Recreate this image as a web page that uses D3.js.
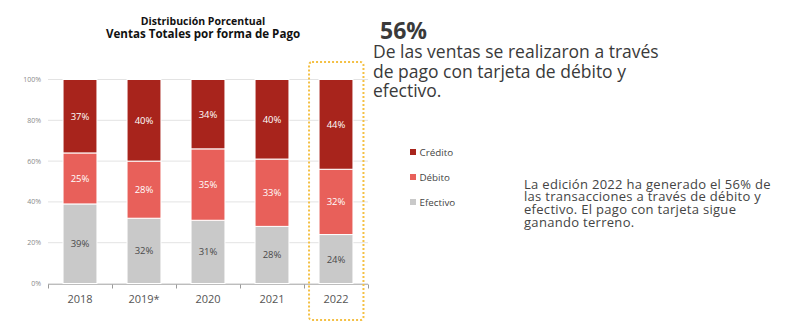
<!DOCTYPE html>
<html>
<head>
<meta charset="utf-8">
<script src="https://cdn.jsdelivr.net/npm/d3@7"></script>
<style>
  html, body { margin: 0; padding: 0; background: #fff; }
  svg { display: block; font-family: "Open Sans", "Noto Sans", sans-serif; }
</style>
</head>
<body>
<svg id="chart" width="800" height="333"></svg>
<script>
// Payment-method share of total sales per edition (percent)
const years = ["2018", "2019*", "2020", "2021", "2022"];
const efectivo = [39, 32, 31, 28, 24];
const debito = [25, 28, 35, 33, 32];
const credito = [37, 40, 34, 40, 44];
const yTicks = [0, 20, 40, 60, 80, 100];
const seriesNames = ["Efectivo", "Débito", "Crédito"];
const legendOrder = ["Crédito", "Débito", "Efectivo"];
const highlightYear = "2022";

const colors = { "Crédito": "#a8241c", "Débito": "#e8605a", "Efectivo": "#c9c9c9" };
const labelColors = { "Crédito": "#ffffff", "Débito": "#ffffff", "Efectivo": "#4a4a4a" };

const svg = d3.select("#chart");

const rows = years.map((y, i) => ({ year: y, "Efectivo": efectivo[i], "Débito": debito[i], "Crédito": credito[i] }));
const stacked = d3.stack().keys(seriesNames)(rows);

const x = d3.scaleBand().domain(years).range([48, 368]).paddingInner(0.47).paddingOuter(0.235);
const y = d3.scaleLinear().domain([0, 100]).range([283.5, 79.5]);

// gridlines
svg.append("g").selectAll("line").data(yTicks).join("line")
  .attr("x1", 48).attr("x2", 368)
  .attr("y1", d => y(d)).attr("y2", d => y(d))
  .attr("stroke", "#e3e3e3").attr("stroke-width", 1);

// y tick labels
svg.append("g").selectAll("text").data(yTicks).join("text")
  .attr("x", 41).attr("y", d => y(d) + 2.5)
  .attr("text-anchor", "end")
  .attr("font-size", 7).attr("fill", "#8a8a8a")
  .text(d => d + "%");

// stacked bars (rounded shares can exceed 100, so the top is clipped to the axis)
const layers = svg.append("g").selectAll("g").data(stacked).join("g")
  .attr("fill", d => colors[d.key]);
layers.selectAll("rect").data(d => d.map(v => Object.assign(v, { key: d.key }))).join("rect")
  .attr("x", d => x(d.data.year))
  .attr("width", x.bandwidth())
  .attr("y", d => y(Math.min(d[1], 100)))
  .attr("height", d => y(d[0]) - y(Math.min(d[1], 100)))
  .attr("stroke", "#ffffff").attr("stroke-width", 1);

// value labels
layers.selectAll("text").data(d => d).join("text")
  .attr("x", d => x(d.data.year) + x.bandwidth() / 2)
  .attr("y", d => (y(d[0]) + y(Math.min(d[1], 100))) / 2 + 3.5)
  .attr("text-anchor", "middle")
  .attr("font-size", 9.5)
  .attr("fill", d => labelColors[d.key])
  .text(d => (d.data[d.key]) + "%");

// x axis
const xAxisScale = d3.scaleLinear().domain([0, years.length]).range([48, 368]);
const axisG = svg.append("g");
axisG.append("line").attr("x1", 48).attr("x2", 368).attr("y1", 284.5).attr("y2", 284.5)
  .attr("stroke", "#bdbdbd");
axisG.selectAll("line.tick").data(d3.range(years.length + 1)).join("line")
  .attr("class", "tick")
  .attr("x1", d => xAxisScale(d) + 0.5).attr("x2", d => xAxisScale(d) + 0.5)
  .attr("y1", 284.5).attr("y2", 288.5)
  .attr("stroke", "#9a9a9a");
axisG.selectAll("text").data(years).join("text")
  .attr("x", d => x(d) + x.bandwidth() / 2)
  .attr("y", 303)
  .attr("text-anchor", "middle")
  .attr("font-size", 11).attr("fill", "#555")
  .text(d => d);

// dotted highlight around the latest edition
const hx = x(highlightYear);
svg.append("rect")
  .attr("x", hx - 10).attr("y", 62)
  .attr("width", x.bandwidth() + 20.5).attr("height", 258)
  .attr("rx", 3)
  .attr("fill", "none").attr("stroke", "#f4c044")
  .attr("stroke-width", 2).attr("stroke-dasharray", "2,2");

// titles
svg.append("text").attr("x", 203).attr("y", 25).attr("text-anchor", "middle")
  .attr("font-size", 10.5).attr("font-weight", 700).attr("fill", "#111")
  .text("Distribución Porcentual");
svg.append("text").attr("x", 203).attr("y", 37.5).attr("text-anchor", "middle")
  .attr("font-size", 11.6).attr("font-weight", 700).attr("fill", "#111")
  .text("Ventas Totales por forma de Pago");

// headline figure
svg.append("text").attr("x", 380).attr("y", 39)
  .attr("font-size", 23).attr("font-weight", 700).attr("fill", "#3a3a3a")
  .text("56%");
const headLines = ["De las ventas se realizaron a través", "de pago con tarjeta de débito y", "efectivo."];
svg.append("text").attr("font-size", 17.5).attr("fill", "#3a3a3a")
  .selectAll("tspan").data(headLines).join("tspan")
  .attr("x", 373).attr("y", (d, i) => 58 + i * 19.5)
  .text(d => d);

// legend
const lg = svg.append("g").selectAll("g").data(legendOrder).join("g")
  .attr("transform", (d, i) => `translate(410, ${148 + i * 25})`);
lg.append("rect").attr("width", 6).attr("height", 6).attr("y", 1)
  .attr("fill", d => colors[d]);
lg.append("text").attr("x", 9.5).attr("y", 7.5)
  .attr("font-size", 9.8).attr("fill", "#444")
  .text(d => d);

// commentary
const noteLines = [
  "La edición 2022 ha generado el 56% de",
  "las transacciones a través de débito y",
  "efectivo. El pago con tarjeta sigue",
  "ganando terreno."
];
svg.append("text").attr("font-size", 13).attr("letter-spacing", 0.3).attr("fill", "#444")
  .selectAll("tspan").data(noteLines).join("tspan")
  .attr("x", 524).attr("y", (d, i) => 188.5 + i * 12.9)
  .text(d => d);
</script>
</body>
</html>
